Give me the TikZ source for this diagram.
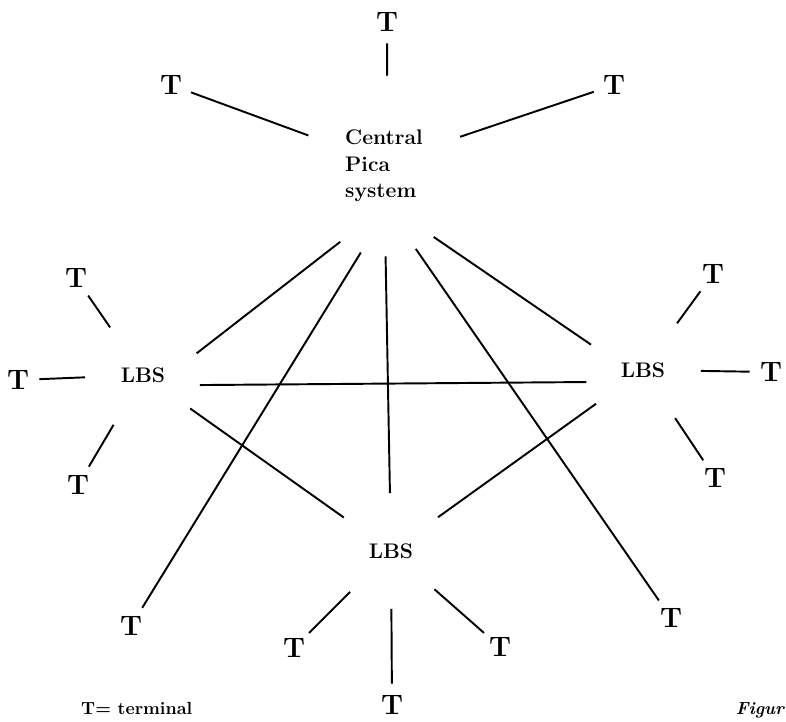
\documentclass[tikz,border=0pt]{standalone}
\usetikzlibrary{positioning, shapes.geometric}

\begin{document}
\begin{tikzpicture}[x=0.02cm, y=-0.02cm,
  term/.style={circle, inner sep=0pt, minimum size=0.84cm,
               font=\fontsize{16}{18}\selectfont\bfseries},
  lbs/.style={circle, inner sep=0pt, minimum size=2.3cm,
              font=\fontsize{12}{14}\selectfont\bfseries},
  link/.style={line width=1.1pt}]
  \useasboundingbox (0,0) rectangle (786,721);

  % central system and its own terminals
  \node[ellipse, inner sep=0pt, minimum width=3.2cm, minimum height=3.6cm,
        align=left, font=\fontsize{12}{15}\selectfont\bfseries] (cps) at (384,166) {Central\\Pica\\system};
  \node[term] (tt) at (387,22) {T};
  \node[term] (ttl) at (171,85) {T};
  \node[term] (ttr) at (614,85) {T};
  \node[term] (tfl) at (131,626) {T};
  \node[term] (tfr) at (671,618) {T};

  % local systems
  \node[lbs] (lbsl) at (143,375) {LBS};
  \node[lbs] (lbsr) at (643,370) {LBS};
  \node[lbs] (lbsb) at (391,551) {LBS};

  \node[term] (tl1) at (76,278) {T};
  \node[term] (tl2) at (18,380) {T};
  \node[term] (tl3) at (78,485) {T};
  \node[term] (tr1) at (713,274) {T};
  \node[term] (tr2) at (771,372) {T};
  \node[term] (tr3) at (715,478) {T};
  \node[term] (tb1) at (294,648) {T};
  \node[term] (tb2) at (392,705) {T};
  \node[term] (tb3) at (500,647) {T};

  \node[anchor=base west, font=\fontsize{10}{12}\selectfont\bfseries] (key) at (75,714) {T= terminal};
  \node[anchor=base east, inner sep=1pt, font=\fontsize{10}{12}\selectfont\bfseries\itshape] (fig) at (786,714) {Figur};

  % links
  \draw[link] (cps.88) -- (tt);
  \draw[link] (cps.158) -- (ttl);
  \draw[link] (cps.21) -- (ttr);
  \draw[link] (cps.240) -- (lbsl.22);
  \draw[link] (cps.255) -- (tfl);
  \draw[link] (cps.271) -- (lbsb);
  \draw[link] (cps.291) -- (tfr);
  \draw[link] (cps.305) -- (lbsr.154);
  \draw[link] (lbsl.350) -- (lbsr.192);
  \draw[link] (lbsl) -- (lbsb);
  \draw[link] (lbsr) -- (lbsb);

  \draw[link] (lbsl) -- (tl1);
  \draw[link] (lbsl) -- (tl2);
  \draw[link] (lbsl) -- (tl3);
  \draw[link] (lbsr) -- (tr1);
  \draw[link] (lbsr) -- (tr2);
  \draw[link] (lbsr) -- (tr3);
  \draw[link] (lbsb) -- (tb1);
  \draw[link] (lbsb) -- (tb2);
  \draw[link] (lbsb) -- (tb3);
\end{tikzpicture}
\end{document}
